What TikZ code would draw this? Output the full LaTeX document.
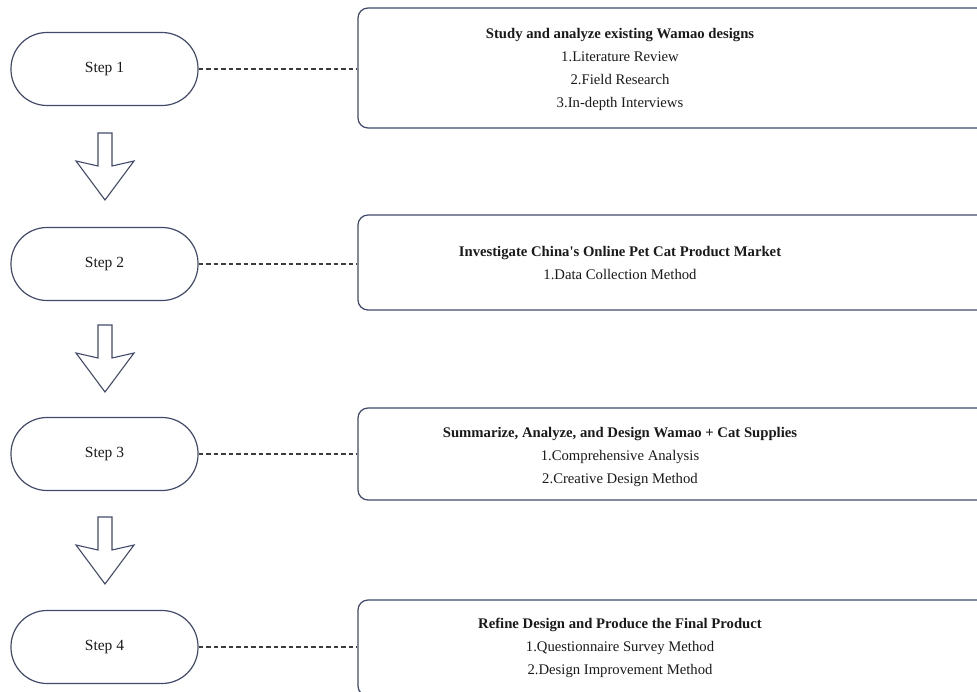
\documentclass[tikz,border=0pt]{standalone}
\usepackage{fontspec}
\setmainfont{Liberation Serif}[Ligatures=TeXOff]
\definecolor{edge}{HTML}{414A6B}
\definecolor{ink}{HTML}{1A1A1A}
\begin{document}
\begin{tikzpicture}[x=1pt,y=-1pt,
  pill/.style={draw=edge,line width=1.2pt,rectangle,rounded corners=36pt,minimum width=187pt,minimum height=73pt,inner sep=0pt,font=\fontsize{15.5}{18}\selectfont,text=ink},
  infobox/.style={draw=edge,line width=1.2pt,rectangle,rounded corners=10pt,inner sep=0pt},
  infotext/.style={align=center,font=\fontsize{14.7}{23}\selectfont,text=ink,inner sep=0pt},
  link/.style={draw=ink!85,line width=1.1pt,dash pattern=on 4.5pt off 3pt},
  downarrow/.style={draw=edge,line width=1.1pt,fill=white,line join=miter}]
\useasboundingbox (0,0) rectangle (977,692);
\clip (0,0) rectangle (977,692);
% steps
\node[pill] (s1) at (104.5,69) {Step 1};
\node[pill] (s2) at (104.5,264) {Step 2};
\node[pill] (s3) at (104.5,454) {Step 3};
\node[pill] (s4) at (104.5,647) {Step 4};
% boxes
\node[infobox,minimum width=640pt,minimum height=120pt] (b1) at (678,68) {};
\node[infobox,minimum width=640pt,minimum height=95pt] (b2) at (678,262.5) {};
\node[infobox,minimum width=640pt,minimum height=92pt] (b3) at (678,454) {};
\node[infobox,minimum width=640pt,minimum height=96pt] (b4) at (678,648) {};
% texts
\node[infotext,anchor=north] (t1) at (620,28) {\textbf{Study and analyze existing Wamao designs}\\1.Literature Review\\2.Field Research\\3.In-depth Interviews};
\node[infotext,anchor=north] (t2) at (620,246) {\textbf{Investigate China's Online Pet Cat Product Market}\\1.Data Collection Method};
\node[infotext,anchor=north] (t3) at (620,427) {\textbf{Summarize, Analyze, and Design Wamao + Cat Supplies}\\1.Comprehensive Analysis\\2.Creative Design Method};
\node[infotext,anchor=north] (t4) at (620,618) {\textbf{Refine Design and Produce the Final Product}\\1.Questionnaire Survey Method\\2.Design Improvement Method};
% links
\draw[link] (s1.east) -- (s1.east -| b1.west);
\draw[link] (s2.east) -- (s2.east -| b2.west);
\draw[link] (s3.east) -- (s3.east -| b3.west);
\draw[link] (s4.east) -- (s4.east -| b4.west);
% down arrows
\foreach \t in {133,325,517}{
  \draw[downarrow] (98,\t) -- (112,\t) -- (112,\t+33) -- (134,\t+28) -- (105,\t+67) -- (76,\t+28) -- (98,\t+33) -- cycle;
}
\end{tikzpicture}
\end{document}
